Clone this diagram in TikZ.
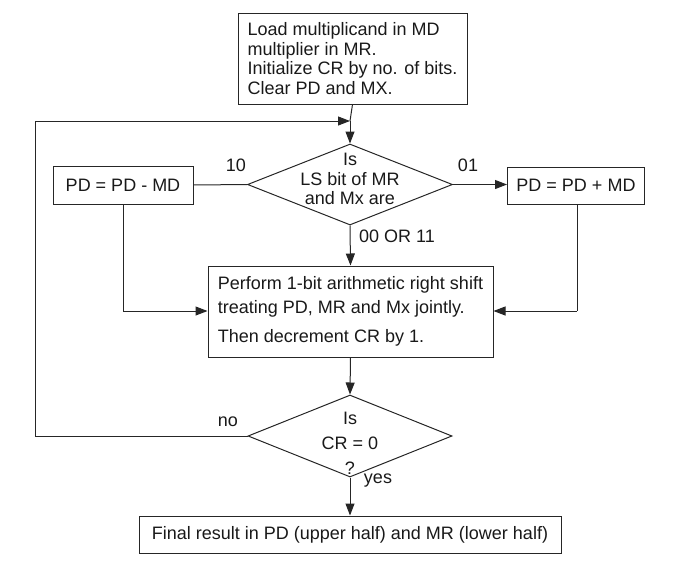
\documentclass[tikz,border=0pt]{standalone}
\usepackage{fontspec}
\setmainfont{Liberation Sans}
\usetikzlibrary{arrows.meta,shapes.geometric}
\begin{document}
\begin{tikzpicture}[x=1pt,y=-1pt,
  every node/.style={font=\fontsize{18pt}{19.4pt}\selectfont, text=black!90},
  box/.style={draw=black!85, line width=1pt, inner sep=0pt, align=left},
  dia/.style={draw=black!85, line width=1pt, diamond, inner sep=0pt},
  dtext/.style={align=center, inner sep=0pt},
  lbl/.style={inner sep=0pt},
  conn/.style={draw=black!85, line width=1pt},
  arr/.style={conn, -{Triangle[length=12pt,width=9pt]}}]
\useasboundingbox (0,0) rectangle (678,563);

% boxes
\node[box, minimum width=229pt, minimum height=91pt] (init) at (352.5,58.5)
  {Load multiplicand in MD\\multiplier in MR.\\Initialize CR by no. of bits.\\Clear PD and MX.};
\node[box, minimum width=140pt, minimum height=38pt] (sub) at (123,185) {PD = PD - MD};
\node[box, minimum width=137pt, minimum height=37pt] (add) at (576,185.5) {PD = PD + MD};
\node[box, minimum width=285pt, minimum height=91pt,
  font=\fontsize{18pt}{23.5pt}\selectfont] (shift) at (350.5,311.5)
  {Perform 1-bit arithmetic right shift\\treating PD, MR and Mx jointly.\\[5.5pt]Then decrement CR by 1.};
\node[box, minimum width=422pt, minimum height=37pt] (final) at (350,534.5)
  {Final result in PD (upper half) and MR (lower half)};

% diamonds
\node[dia, minimum width=205pt, minimum height=81pt] (d1) at (350,184.5) {};
\node[dtext] (d1t) at (350,179) {Is\\LS bit of MR\\and Mx are};
\node[dia, minimum width=204pt, minimum height=82pt] (d2) at (350,436) {};
\node[dtext, font=\fontsize{18pt}{25pt}\selectfont] (d2t) at (350,443) {Is\\CR = 0\\?};

% loop coordinates
\coordinate (loopjoin) at (350,121);
\coordinate (lbot) at (35,436);
\coordinate (ltop) at (35,121);
\coordinate (subdown) at (123,311);
\coordinate (adddown) at (577,311);

% connectors
\draw[conn] (init.south) -- (loopjoin);
\draw[arr] (loopjoin) -- (d1.north);
\draw[conn] (sub.east) -- (d1.west);
\draw[arr] (d1.east) -- (add.west |- d1.east);
\draw[arr] (d1.south) -- (shift.north);
\draw[conn] (sub.south) -- (subdown);
\draw[arr] (subdown) -- (shift.west |- subdown);
\draw[conn] (add.south -| adddown) -- (adddown);
\draw[arr] (adddown) -- (shift.east |- adddown);
\draw[arr] (shift.south) -- (d2.north);
\draw[conn] (d2.west) -- (lbot) -- (ltop);
\draw[arr] (ltop) -- (loopjoin);
\draw[arr] (d2.south) -- (final.north);

% labels
\node[lbl] (l10) at (236,165) {10};
\node[lbl] (l01) at (468,165) {01};
\node[lbl] (l00) at (397,236) {00 OR 11};
\node[lbl] (lno) at (228,422) {no};
\node[lbl] (lyes) at (378,481) {yes};
\end{tikzpicture}
\end{document}
